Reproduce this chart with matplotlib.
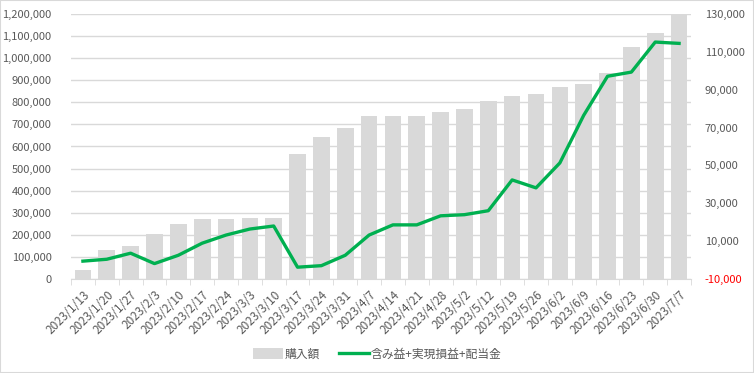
import numpy as np
import matplotlib
matplotlib.use("Agg")
import matplotlib.pyplot as plt
from matplotlib.ticker import FuncFormatter
from matplotlib.patches import Rectangle

plt.rcParams['font.family'] = ['Noto Sans CJK JP', 'DejaVu Sans']

# data
dates = ["2023/1/13", "2023/1/20", "2023/1/27", "2023/2/3", "2023/2/10", "2023/2/17",
         "2023/2/24", "2023/3/3", "2023/3/10", "2023/3/17", "2023/3/24", "2023/3/31",
         "2023/4/7", "2023/4/14", "2023/4/21", "2023/4/28", "2023/5/2", "2023/5/12",
         "2023/5/19", "2023/5/26", "2023/6/2", "2023/6/9", "2023/6/16", "2023/6/23",
         "2023/6/30", "2023/7/7"]
purchase = [40000, 130000, 150000, 205000, 250000, 270000, 270000, 275000, 275000,
            565000, 645000, 685000, 740000, 740000, 740000, 755000, 770000, 805000,
            830000, 840000, 870000, 885000, 935000, 1050000, 1115000, 1200000]
profit = [-700, 300, 3500, -2000, 2400, 8800, 13100, 16300, 17900, -3900, -3100, 2400,
          13100, 18500, 18500, 23300, 23900, 26000, 42300, 38100, 51300, 76500, 97200,
          99400, 115300, 114600]
bar_label = "購入額"
line_label = "含み益+実現損益+配当金"

text_col = "#595959"
grid_col = "#d9d9d9"
bar_col = "#d9d9d9"
line_col = "#00b050"

fig = plt.figure(figsize=(7.54, 3.73), dpi=100)
fig.patches.append(Rectangle((0, 0), 1, 1, transform=fig.transFigure, fill=False,
                             edgecolor="#d9d9d9", linewidth=1.5))
W, H = 754, 373
ax = fig.add_axes([71 / W, 1 - 278.7 / H, (691 - 71) / W, (278.7 - 14.3) / H])
x = np.arange(len(dates))
ax.bar(x, purchase, width=0.7, color=bar_col, zorder=2, label=bar_label)
ax.set_xlim(-0.5, len(dates) - 0.5)
ax.set_ylim(0, 1200000)
ax.set_yticks(np.arange(0, 1200001, 100000))
ax.yaxis.set_major_formatter(FuncFormatter(lambda v, p: f"{int(v):,}"))
ax.grid(axis="y", color=grid_col, linewidth=1, zorder=0)
ax.set_axisbelow(True)

ax2 = ax.twinx()
ax2.plot(x, profit, color=line_col, linewidth=2.4, zorder=3, label=line_label,
         solid_joinstyle="round")
ax2.set_ylim(-10000, 130000)
ax2.set_yticks(np.arange(-10000, 130001, 20000))
ax2.yaxis.set_major_formatter(FuncFormatter(lambda v, p: f"{int(v):,}"))

for a in (ax, ax2):
    for s in a.spines.values():
        s.set_visible(False)
    a.tick_params(axis="y", length=0, colors=text_col, labelsize=8)
ax.spines["bottom"].set_visible(True)
ax.spines["bottom"].set_color(grid_col)
ax.tick_params(axis="y", pad=14)
ax2.tick_params(axis="y", pad=10)
for lbl in ax2.get_yticklabels():
    if lbl.get_text().startswith("-"):
        lbl.set_color("red")

ax.set_xticks(x)
ax.set_xticklabels(dates, rotation=45, ha="right", rotation_mode="anchor",
                   fontsize=8.5, color=text_col)
ax.tick_params(axis="x", length=0, pad=7)
ax.set_xticks(np.arange(-0.5, len(dates), 1), minor=True)
ax.tick_params(axis="x", which="minor", length=4, color=grid_col)

h1, l1 = ax.get_legend_handles_labels()
h2, l2 = ax2.get_legend_handles_labels()
fig.legend(h1 + h2, l1 + l2, loc="center", bbox_to_anchor=(0.5, 1 - 354 / H),
           ncol=2, frameon=False, fontsize=8.5, labelcolor=text_col,
           handlelength=2.6, handleheight=1.0, columnspacing=1.6, handletextpad=0.1)

fig.savefig("out.png", dpi=100)
